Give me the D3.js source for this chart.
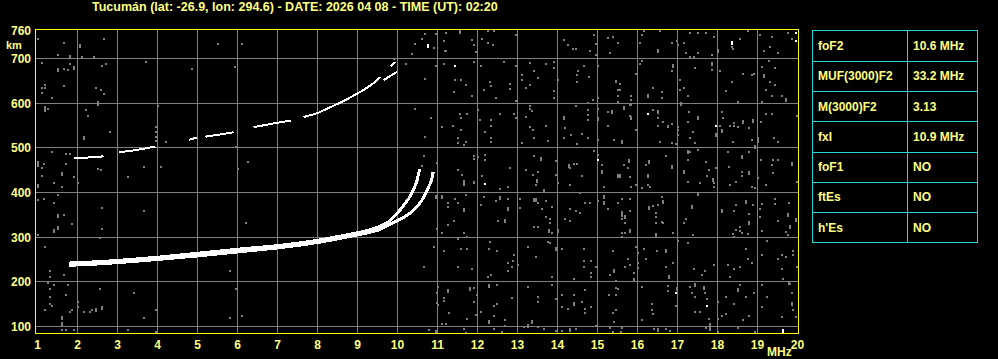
<!DOCTYPE html>
<html><head><meta charset="utf-8">
<script src="https://cdn.jsdelivr.net/npm/d3@7"></script>
<style>html,body{margin:0;padding:0;background:#000;overflow:hidden}svg{display:block}</style>
</head><body>
<svg id="c" width="998" height="359"></svg>
<script>
// ---------- data ----------
const titleText = "Tucumán (lat: -26.9, lon: 294.6) - DATE: 2026 04 08 - TIME (UT): 02:20";
const freqTicks = [1,2,3,4,5,6,7,8,9,10,11,12,13,14,15,16,17,18,19,20];
const freqGrid = [2,3,4,5,6,7,8,9,10,11,12,13,14,15,16,17,18,19];
const heightTicks = [100,200,300,400,500,600,700];
const heightTop = 760;
const freqUnit = "MHz";
const heightUnit = "km";

// ordinary F2 trace (MHz, km)
const traceO = [[1.78,242],[2.5,245],[3.16,249],[4.0,255],[5.0,264],[6.0,273],[7.0,281],[8.0,293],[8.66,304],[9.16,313],[9.58,325],[9.8,336],[9.99,353],[10.16,372],[10.33,394],[10.41,409],[10.48,424],[10.52,439],[10.55,452]];
// extraordinary F2 trace
const traceX = [[1.78,237],[2.5,240],[3.16,244],[4.0,250],[5.0,258],[6.0,267],[7.0,276],[8.0,288],[8.66,299],[9.16,308],[9.58,318],[9.74,325],[9.99,337],[10.24,349],[10.49,368],[10.66,390],[10.78,413],[10.87,435],[10.89,446]];
// second-hop (2F) trace fragments
const trace2F = [
  [[1.9,478],[2.1,478],[2.4,479],[2.65,481]],
  [[3.03,490],[3.3,493],[3.6,497],[3.95,503]],
  [[4.78,518],[4.99,523]],
  [[5.2,525],[5.5,529],[5.9,535]],
  [[6.4,546],[6.8,553],[7.33,561]],
  [[7.65,569],[8.0,578],[8.32,591],[8.66,605],[8.9,617],[9.16,630],[9.4,645],[9.58,659]],
  [[9.83,683],[9.95,692]]
];
const trace2FX = [[9.65,651],[9.8,660],[9.99,670]];

// scattered interference dots (MHz, km)
const noiseGray = [
 [11.2,757],[11.55,761],[11.55,757],[12.4,761],[12.25,761],[10.9,723],[11.2,716],[11.85,741],[11.9,730],[11.95,714],[12.12,743],[12.25,734],[12.38,730],[12.95,752],[14.15,741],[14.25,730],[14.38,721],[14.45,721],[14.8,716],[14.95,732],[14.95,707],[14.9,752],[15.25,745],[15.38,748],[15.32,712],[15.5,734],
 [11.15,687],[11.9,692],[10.95,683],[11.45,651],[11.6,651],[11.7,640],[11.4,624],[11.85,615],[12.1,683],[12.65,692],[12.3,647],[12.35,638],[12.15,629],[12.8,642],[12.8,631],[12.45,611],[12.95,683],[13.1,662],[13.1,651],[13.3,689],[13.4,671],[13.5,656],[13.3,640],[13.2,633],[13.7,687],[13.9,692],[13.9,678],[14.0,651],[13.9,627],[13.9,611],[12.95,604],[14.65,683],[14.52,671],[14.5,662],[14.78,658],[14.5,647],[15.02,683],[15.45,647],[15.52,629],[15.5,615],[15.02,611],[14.88,606],
 [11.57,575],[11.75,575],[11.6,566],[10.85,566],[11.12,546],[11.38,548],[11.6,539],[11.5,521],[11.52,510],[11.65,506],[11.7,512],[12.0,584],[12.05,562],[12.35,562],[12.35,548],[12.2,535],[12.35,521],[12.35,512],[12.55,575],[12.9,575],[12.95,566],[13.2,568],[13.32,593],[13.32,588],[13.35,582],[13.3,546],[13.38,539],[13.7,548],[13.4,521],[13.75,515],[13.1,510],[14.15,568],[14.15,564],[14.2,544],[14.15,521],[14.35,528],[14.45,593],[14.75,600],[14.75,584],[14.75,573],[14.75,562],[14.6,530],[14.5,508],[14.75,521],[15.02,566],[15.02,562],[15.02,588],[15.25,580],[15.35,582],[15.35,578],[15.25,550],[15.02,517],[15.4,517],
 [11.9,481],[11.9,476],[12.2,483],[12.2,472],[11.52,450],[11.62,439],[11.65,425],[12.12,436],[12.8,454],[13.2,450],[13.42,481],[13.58,477],[13.58,472],[13.38,439],[13.5,445],[13.48,428],[13.48,423],[13.95,470],[13.95,439],[14.28,461],[14.28,457],[14.4,463],[14.5,463],[14.3,454],[14.6,436],[14.9,492],[15.02,483],[15.1,461],[15.1,448],[15.1,443],[15.52,439],[15.52,434],
 [16.15,761],[16.12,752],[16.05,734],[16.55,761],[16.52,718],[16.52,714],[16.85,734],[16.98,739],[17.02,730],[17.15,734],[17.2,712],[17.3,757],[17.5,757],[17.7,757],[17.5,712],[17.3,703],[17.4,703],[17.9,748],[18.0,718],[18.0,714],[17.85,707],[18.35,725],[18.38,721],[18.55,743],[18.75,761],[19.05,752],[19.35,748],[19.3,725],[19.15,716],[19.52,712],[19.75,757],[19.85,743],
 [16.05,687],[16.12,694],[15.95,665],[15.55,642],[15.55,629],[15.45,649],[15.5,602],[15.85,615],[15.85,606],[15.82,595],[16.25,618],[16.25,613],[16.4,633],[16.6,624],[16.6,611],[16.85,671],[16.9,685],[16.9,680],[17.05,651],[17.05,629],[17.15,633],[17.25,615],[17.45,678],[17.85,689],[17.85,685],[17.85,674],[18.05,671],[18.35,647],[18.2,627],[18.5,602],[18.65,665],[18.85,662],[18.9,665],[19.15,662],[19.15,658],[19.1,680],[19.28,694],[19.45,678],[19.3,647],[19.45,640],[19.2,629],[19.35,615],[19.6,615],[19.7,609],[19.7,604],[19.12,602],[17.08,600],[17.08,595],
 [15.65,591],[15.65,586],[15.85,595],[15.8,571],[15.85,568],[15.85,564],[15.95,539],[15.6,515],[15.6,510],[16.4,584],[16.5,582],[16.5,578],[16.5,566],[16.65,557],[16.5,548],[16.75,550],[16.75,546],[16.85,553],[17.0,546],[17.0,541],[17.0,528],[16.85,510],[16.95,508],[16.55,512],[17.28,580],[17.25,557],[17.5,568],[17.5,564],[17.38,535],[17.3,521],[17.45,510],[17.95,530],[17.95,526],[18.05,550],[18.1,539],[18.1,535],[18.12,580],[18.15,566],[18.3,550],[18.4,555],[18.4,550],[18.52,546],[18.65,559],[18.65,555],[18.88,562],[18.88,557],[18.78,544],[18.85,517],[18.38,512],[19.0,521],[19.0,517],[19.0,512],[19.08,557],[19.2,575],[19.35,575],[19.4,521],[19.52,512],[19.98,571],
 [15.78,472],[15.78,468],[15.65,461],[15.75,454],[16.28,470],[16.28,466],[16.2,461],[16.25,439],[16.25,434],[15.55,439],[15.55,434],[15.8,434],[16.7,481],[16.85,459],[16.85,454],[17.25,492],[17.25,488],[17.32,490],[17.5,495],[17.25,472],[17.15,448],[17.15,443],[17.7,468],[17.78,450],[17.75,436],[17.95,454],[17.88,430],[17.88,425],[18.25,490],[18.6,481],[18.6,477],[18.78,490],[18.78,445],[18.78,441],[18.6,445],[18.6,436],[18.28,457],[18.95,504],[18.95,499],[19.08,472],[19.38,472],[19.35,461],[19.5,472],[19.38,443],[19.85,466],[19.85,461],[19.0,432],
 [11.65,421],[11.65,416],[11.9,421],[12.55,407],[12.75,412],[13.45,416],[14.0,421],[14.3,416],[15.15,412],[10.95,392],[10.95,387],[11.1,392],[11.1,387],[11.25,376],[11.25,367],[11.45,385],[11.5,376],[11.65,363],[11.65,358],[11.7,394],[12.15,390],[12.08,372],[12.45,381],[12.55,390],[12.55,385],[12.75,385],[12.75,365],[12.75,360],[13.05,385],[13.05,365],[13.42,385],[13.42,381],[13.47,385],[13.47,381],[13.5,376],[13.7,381],[13.62,363],[13.65,405],[13.65,401],[13.85,367],[13.7,345],[13.8,340],[13.8,331],[13.78,316],[13.78,311],[13.85,309],[13.4,322],[13.52,322],[14.02,316],[14.02,311],[14.3,363],[14.45,358],[14.55,354],[14.2,340],[14.3,336],[14.7,376],[14.82,376],[15.0,381],[15.15,392],[15.15,387],[15.15,378],[15.15,374],[15.25,363],[15.5,376],[14.55,398],
 [11.4,336],[11.25,327],[11.0,318],[11.1,309],[11.65,309],[11.75,300],[11.5,296],[12.52,336],[12.7,338],[12.7,334],[12.3,289],
 [10.9,278],[11.15,269],[11.6,273],[11.75,273],[11.5,233],[11.85,228],[12.28,273],[12.5,269],[12.9,260],[12.88,246],[12.75,242],[12.85,233],[12.75,224],[13.0,237],[13.25,278],[13.45,255],[13.75,289],[13.8,287],[13.95,275],[13.95,271],[14.1,273],[13.85,211],[14.4,206],[14.65,273],[14.65,246],[14.85,246],[14.65,233],[14.95,233],[14.85,220],[14.85,211],[15.38,269],[15.4,226],[15.4,222],[15.3,215],[15.45,202],[12.25,211],[12.35,215],
 [11.02,188],[11.0,175],[11.25,182],[11.25,177],[11.8,186],[11.8,182],[11.9,186],[11.98,170],[11.15,164],[11.15,157],[11.9,155],[11.0,152],[11.02,148],[11.28,130],[11.12,105],[11.2,105],[11.75,117],[11.95,126],[12.1,132],[12.28,193],[12.28,188],[12.5,193],[12.4,146],[12.5,150],[12.4,123],[12.28,112],[12.28,108],[12.7,114],[12.7,101],[13.25,188],[13.52,166],[13.5,155],[13.85,193],[12.85,164],[13.35,112],[13.35,108],[13.25,103],[13.25,99],[13.15,99],[13.5,99],[13.65,94],[13.95,161],[14.1,170],[14.1,143],[14.4,170],[14.4,152],[14.4,148],[14.25,139],[14.7,182],[14.6,155],[14.68,139],[14.68,130],[14.85,143],[15.28,170],[15.45,186],[15.45,170],[15.45,137],[15.38,130],[15.4,110],[14.95,101],[15.3,97],[10.95,90],[10.95,86],[11.65,94],[12.4,94],[12.6,88],[13.95,90],[14.32,94],[14.32,90],[14.45,94],[14.1,90],[15.38,88],[11.72,86],
 [15.85,412],[15.95,416],[16.25,416],[16.3,412],[16.1,410],[17.25,423],[17.55,421],[17.9,421],[17.9,412],[17.52,398],[17.52,394],[18.3,416],[18.45,423],[18.85,412],[18.95,410],[19.2,416],[19.98,423],
 [15.52,376],[15.6,385],[15.8,385],[15.6,356],[15.6,351],[15.6,347],[15.7,347],[15.7,343],[15.8,358],[15.6,340],[15.7,331],[15.8,316],[15.8,311],[15.6,309],[15.6,300],[15.7,309],[16.28,367],[16.28,363],[16.4,369],[16.5,372],[16.6,390],[16.65,381],[16.65,376],[16.45,354],[16.45,345],[16.45,331],[16.6,334],[16.65,331],[16.45,307],[16.45,302],[16.9,309],[17.35,369],[17.35,365],[17.2,340],[17.15,331],[17.38,304],[18.1,360],[18.1,356],[18.4,358],[18.45,372],[18.7,381],[18.7,376],[18.88,372],[18.78,351],[18.78,334],[18.78,329],[18.55,322],[18.45,316],[18.55,313],[18.38,307],[18.6,309],[18.75,307],[18.42,300],[19.05,363],[19.05,345],[19.12,374],[19.45,385],[19.45,374],[19.78,376],[19.75,351],[19.75,347],[19.8,325],[19.8,320],[19.95,340],[19.95,336],[19.5,336],[19.7,311],[19.75,304],[19.12,313],
 [15.95,278],[16.15,273],[16.02,264],[15.75,251],[16.02,242],[15.8,237],[15.7,233],[16.02,231],[15.9,220],[15.9,206],[15.9,202],[16.2,251],[16.48,269],[16.7,271],[16.7,266],[16.9,242],[16.7,233],[16.78,213],[16.78,208],[17.02,291],[17.25,287],[17.4,228],[17.68,224],[17.6,215],[17.9,237],[18.25,237],[18.4,228],[18.55,233],[18.3,211],[18.7,273],[18.75,251],[18.85,242],[19.1,260],[19.52,251],[19.6,260],[19.7,255],[19.6,228],[19.65,206],[19.78,199],[19.78,195],[19.9,269],[19.9,260],[19.98,233],[19.25,291],
 [15.5,184],[15.45,170],[16.1,188],[16.35,150],[16.35,137],[16.38,128],[16.1,114],[16.75,190],[16.75,179],[16.98,186],[16.98,182],[16.95,146],[17.3,188],[17.45,195],[17.45,190],[17.35,175],[17.45,166],[17.65,188],[17.65,184],[17.68,175],[17.75,161],[18.02,155],[17.45,132],[17.55,132],[17.78,117],[18.02,117],[18.2,166],[18.42,150],[18.12,123],[18.2,128],[18.55,193],[18.5,184],[18.5,179],[18.7,166],[18.92,175],[18.78,123],[18.65,114],[19.1,193],[19.25,166],[19.12,143],[19.6,121],[19.85,175],[19.85,152],[19.85,148],[19.9,137],[19.95,121],[19.8,195],
 [15.62,97],[15.58,88],[16.42,94],[16.52,94],[16.52,90],[16.72,94],[16.8,90],[17.8,105],[17.8,101],[17.8,97],[17.8,92],[17.7,97],[18.02,88],[18.5,97],[18.95,88],
 [1.3,224],[1.3,211],[1.65,215],[1.25,197],[1.4,193],[1.75,193],[1.3,184],[1.7,170],[1.3,166],[1.3,150],[1.35,146],[1.2,137],[2.0,155],[2.0,143],[1.85,137],[1.8,132],[2.15,132],[2.3,132],[2.35,137],[2.45,139],[2.45,135],[2.6,143],[2.6,139],[2.55,184],[3.4,175],[3.95,137],[3.65,119],[1.6,121],[1.6,117],[1.6,108],[1.6,103],[1.6,92],[1.7,92],[1.9,92],[3.25,92],[3.95,88],[5.8,224],[5.95,184],[5.8,119],[6.1,123],[10.65,233],[10.78,92],
 [1.02,743],[1.65,734],[2.05,730],[2.05,725],[2.65,743],[1.5,707],[1.8,705],[1.8,701],[2.1,703],[2.4,703],[1.1,689],[1.5,676],[1.5,671],[1.75,674],[1.9,680],[1.9,676],[1.8,687],[2.6,683],[2.7,687],[1.2,640],[1.2,635],[1.1,633],[1.65,638],[1.1,622],[2.45,633],[2.58,629],[2.65,620],[1.35,611],[1.2,591],[1.2,586],[1.2,582],[1.25,588],[2.2,584],[2.25,571],[2.52,602],[2.52,597],[2.82,535],[2.15,524],[2.15,519],[1.35,490],[1.7,486],[1.02,468],[1.02,463],[1.02,459],[1.15,463],[1.1,436],[1.1,454],[1.6,443],[1.6,439],[1.4,421],[1.6,412],[1.9,434],[1.7,463],[1.82,486],[2.02,421],[2.58,450],[1.02,416],[1.02,412],[1.02,383],[1.15,385],[1.4,376],[1.5,394],[1.5,349],[1.5,345],[1.65,349],[1.4,316],[1.4,311],[1.52,322],[1.52,318],[1.85,329],[2.6,365],[2.6,318],[2.55,298],[1.02,304],[1.2,278],
 [4.85,676],[5.93,680],[3.7,692],[4.0,593],[3.95,546],[3.95,535],[3.95,524],[3.95,515],[4.2,512],[4.1,457],[3.65,457],[3.25,434],[2.52,452],[6.25,468],[6.02,452],[5.95,501],[10.45,588],[10.7,653],[10.7,524],[10.2,687],[1.65,676],[10.45,732],[10.62,743],[10.7,754],[10.95,754],[10.35,710],[11.15,739],[11.18,716],[5.52,732],[6.1,732],[9.92,698],[10.65,481],[10.6,459],[11.0,466],[10.92,443],[3.65,358],[6.2,331],[12.0,479],[11.9,423]
];
const noiseWhite = [[11.45,683],[15.0,472],[18.35,736],[18.35,732],[19.95,757],[19.95,739],[16.25,575],[17.95,548],[12.2,419],[10.75,730],[10.75,725],[19.65,92],[19.65,88],[16.95,175],[17.75,146]];

// parameter table
const paramNames = ["foF2","MUF(3000)F2","M(3000)F2","fxI","foF1","ftEs","h'Es"];
const paramValues = ["10.6 MHz","33.2 MHz","3.13","10.9 MHz","NO","NO","NO"];

// ---------- drawing ----------
const svg = d3.select("#c");
const labelColor = "#ffff80";
const frameColor = "#ffff00";
const gridColor = "#808080";
const tableColor = "#22d6d6";
const fontFam = "'Liberation Sans', Arial, sans-serif";

svg.append("rect").attr("width",998).attr("height",359).attr("fill","#000");

const x = d3.scaleLinear().domain([1,20]).range([37.5,797.5]);
const y = d3.scaleLinear().domain([100,700]).range([326.5,58.5]);
const plotL = 35.5, plotR = 798, plotT = 29.5, plotB = 333.5;

// title
const title = svg.append("text").attr("x",92).attr("y",11)
  .attr("fill",labelColor).attr("font-family",fontFam).attr("font-weight","bold")
  .attr("font-size",12).text(titleText);
const tl = title.node().getComputedTextLength();
if (tl > 0) title.attr("font-size", (12*406/tl).toFixed(2));

// grid
const g = svg.append("g").attr("shape-rendering","crispEdges");
g.selectAll("line.v").data(freqGrid).join("line")
  .attr("x1",d=>Math.round(x(d)-0.5)+0.5).attr("x2",d=>Math.round(x(d)-0.5)+0.5)
  .attr("y1",plotT).attr("y2",plotB).attr("stroke",gridColor).attr("stroke-width",1);
g.selectAll("line.h").data(heightTicks).join("line")
  .attr("x1",plotL).attr("x2",plotR)
  .attr("y1",d=>Math.round(y(d)-0.5)+0.5).attr("y2",d=>Math.round(y(d)-0.5)+0.5)
  .attr("stroke",gridColor).attr("stroke-width",1);

// noise
const nz = svg.append("g").attr("shape-rendering","crispEdges");
nz.selectAll("rect.g").data(noiseGray).join("rect")
  .attr("x",d=>Math.round(x(d[0]))-1).attr("y",d=>Math.round(y(d[1]))-1)
  .attr("width",2).attr("height",2).attr("fill",gridColor);
nz.selectAll("rect.w").data(noiseWhite).join("rect")
  .attr("x",d=>Math.round(x(d[0]))-1).attr("y",d=>Math.round(y(d[1]))-1)
  .attr("width",2).attr("height",2).attr("fill","#fff");

// traces
const line = d3.line().x(d=>x(d[0])).y(d=>y(d[1])).curve(d3.curveMonotoneX);
const tr = svg.append("g").attr("shape-rendering","crispEdges").attr("fill","none").attr("stroke","#fff");
tr.append("path").datum(traceX).attr("d",line).attr("stroke-width",3);
tr.append("path").datum(traceO).attr("d",line).attr("stroke-width",3);
tr.selectAll("path.f2").data(trace2F).join("path").attr("class","f2")
  .attr("d",line).attr("stroke-width",2);
tr.append("path").datum(trace2FX).attr("d",line).attr("stroke-width",2);

// frame
svg.append("rect").attr("x",plotL).attr("y",plotT).attr("width",plotR-plotL).attr("height",plotB-plotT)
  .attr("fill","none").attr("stroke",frameColor).attr("stroke-width",1).attr("shape-rendering","crispEdges");

// axis labels
const lab = svg.append("g").attr("fill",labelColor).attr("font-family",fontFam)
  .attr("font-weight","bold").attr("font-size",12);
lab.selectAll("text.x").data(freqTicks).join("text")
  .attr("x",d=>x(d)).attr("y",348.5).attr("text-anchor","middle").text(d=>d);
lab.append("text").attr("x",767).attr("y",356).text(freqUnit);
lab.selectAll("text.y").data(heightTicks).join("text")
  .attr("x",31).attr("y",d=>y(d)+4.5).attr("text-anchor","end").text(d=>d);
lab.append("text").attr("x",31).attr("y",y(heightTop)+3.5).attr("text-anchor","end").text(heightTop);
lab.append("text").attr("x",6).attr("y",49).attr("font-size",11).text(heightUnit);

// table
const tx0 = 812.5, tx1 = 977.5, tcol = 907.5, ty0 = 30.5, ty1 = 242.5;
const rowY = d3.scaleLinear().domain([0,paramNames.length]).range([ty0,ty1]);
const tg = svg.append("g").attr("shape-rendering","crispEdges");
tg.append("rect").attr("x",tx0).attr("y",ty0).attr("width",tx1-tx0).attr("height",ty1-ty0)
  .attr("fill","none").attr("stroke",tableColor).attr("stroke-width",1);
tg.append("line").attr("x1",tcol).attr("x2",tcol).attr("y1",ty0).attr("y2",ty1).attr("stroke",tableColor).attr("stroke-width",1);
tg.selectAll("line.r").data(d3.range(1,paramNames.length)).join("line")
  .attr("x1",tx0).attr("x2",tx1).attr("y1",d=>Math.round(rowY(d))+0.5).attr("y2",d=>Math.round(rowY(d))+0.5)
  .attr("stroke",tableColor).attr("stroke-width",1);
const tt = svg.append("g").attr("fill",labelColor).attr("font-family",fontFam).attr("font-weight","bold").attr("font-size",12);
tt.selectAll("text.n").data(paramNames).join("text")
  .attr("x",818).attr("y",(d,i)=>(rowY(i)+rowY(i+1))/2+4.3).text(d=>d);
tt.selectAll("text.v").data(paramValues).join("text")
  .attr("x",913).attr("y",(d,i)=>(rowY(i)+rowY(i+1))/2+4.3).text(d=>d);
</script>
</body></html>
